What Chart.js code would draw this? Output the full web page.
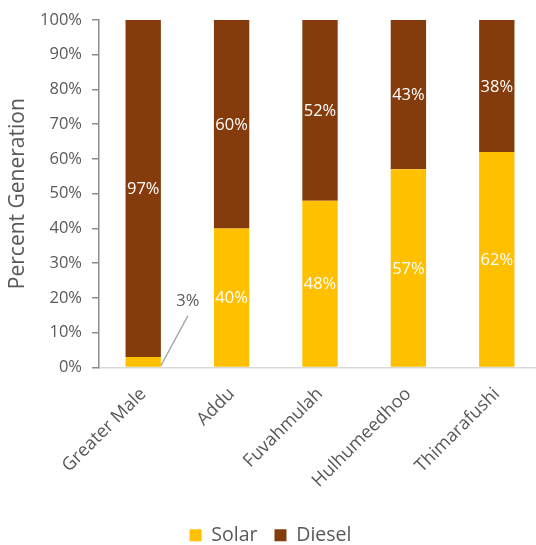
<!DOCTYPE html>
<html>
<head>
<meta charset="utf-8">
<script src="https://cdn.jsdelivr.net/npm/chart.js@4/dist/chart.umd.min.js"></script>
<style>
html,body{margin:0;padding:0;background:#fff;overflow:hidden;}
#clip{width:536px;height:545px;overflow:hidden;position:relative;}
#wrap{width:541px;height:555px;position:relative;}
</style>
</head>
<body>
<div id="clip"><div id="wrap"><canvas id="c"></canvas></div></div>
<script>
const categories = ["Greater Male", "Addu", "Fuvahmulah", "Hulhumeedhoo", "Thimarafushi"];
const solar = [3, 40, 48, 57, 62];
const diesel = [97, 60, 52, 43, 38];
const yTicks = [0, 10, 20, 30, 40, 50, 60, 70, 80, 90, 100];

const FONT = "'Open Sans', sans-serif";
const GREY = "#595959";

const labelPlugin = {
  id: 'barLabels',
  afterDatasetsDraw(chart) {
    const ctx = chart.ctx;
    ctx.save();
    ctx.font = "16.5px " + FONT;
    ctx.textAlign = 'center';
    ctx.textBaseline = 'middle';
    chart.data.datasets.forEach((ds, di) => {
      const meta = chart.getDatasetMeta(di);
      meta.data.forEach((bar, i) => {
        const v = ds.data[i];
        const txt = v + '%';
        const top = Math.min(bar.y, bar.base), bot = Math.max(bar.y, bar.base);
        if (v >= 10) {
          ctx.fillStyle = '#ffffff';
          ctx.fillText(txt, bar.x, (top + bot) / 2 + 1);
        } else {
          const x0 = bar.x + bar.width / 2;
          const y0 = bot - 1;
          const lx = x0 + 27, ly = bot - 65;
          ctx.strokeStyle = '#a6a6a6';
          ctx.lineWidth = 1.5;
          ctx.beginPath();
          ctx.moveTo(x0, y0);
          ctx.lineTo(lx, ly + 14);
          ctx.stroke();
          ctx.fillStyle = GREY;
          ctx.fillText(txt, lx, ly);
        }
      });
    });
    ctx.restore();
  }
};

new Chart(document.getElementById('c'), {
  type: 'bar',
  data: {
    labels: categories,
    datasets: [
      { label: 'Solar', data: solar, backgroundColor: '#FFC000', borderWidth: 0 },
      { label: 'Diesel', data: diesel, backgroundColor: '#843C0C', borderWidth: 0 }
    ]
  },
  options: {
    responsive: true,
    maintainAspectRatio: false,
    animation: false,
    devicePixelRatio: 1,
    layout: { padding: { top: 18, right: 0, left: 0, bottom: 0 } },
    datasets: { bar: { categoryPercentage: 0.8, barPercentage: 0.5 } },
    plugins: {
      legend: {
        position: 'bottom',
        labels: {
          font: { family: FONT, size: 19.5 },
          color: GREY,
          boxWidth: 12,
          boxHeight: 12,
          padding: 17
        }
      },
      tooltip: { enabled: false }
    },
    scales: {
      x: {
        stacked: true,
        grid: { display: false, drawTicks: false },
        border: { color: '#d9d9d9', width: 1.5 },
        ticks: {
          font: { family: FONT, size: 18 },
          color: GREY,
          maxRotation: 45,
          minRotation: 45,
          padding: 16
        },
        afterFit(scale) { scale.height = 141; }
      },
      y: {
        stacked: true,
        min: 0,
        max: 100,
        afterBuildTicks(scale) { scale.ticks = yTicks.map(v => ({ value: v })); },
        grid: { display: true, drawOnChartArea: false, drawTicks: true, tickLength: 7, color: '#8c8c8c', lineWidth: 1.5 },
        border: { color: '#8c8c8c', width: 1.5 },
        ticks: {
          font: { family: FONT, size: 16.5 },
          color: GREY,
          padding: 10,
          callback: v => v + '%'
        },
        title: {
          display: true,
          text: 'Percent Generation',
          font: { family: FONT, size: 21 },
          color: GREY,
          padding: { top: 5, bottom: 2 }
        },
        afterFit(scale) { scale.width = 99; }
      }
    }
  },
  plugins: [labelPlugin]
});
</script>
</body>
</html>
